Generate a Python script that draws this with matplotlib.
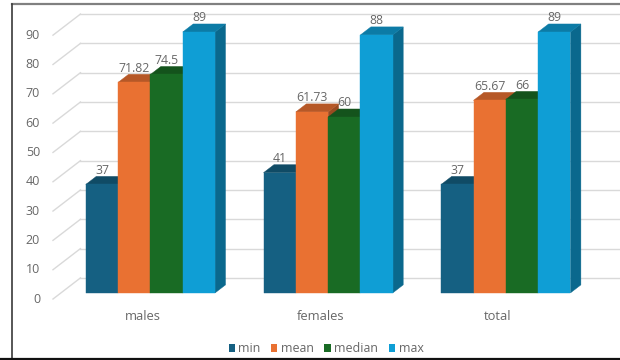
import matplotlib.pyplot as plt
import matplotlib.colors as mcolors
from matplotlib.patches import Polygon, Patch
from matplotlib.lines import Line2D

plt.rcParams['font.family'] = ['Open Sans', 'DejaVu Sans']

categories = ['males', 'females', 'total']
series = ['min', 'mean', 'median', 'max']
min_vals = [37, 41, 37]
mean_vals = [71.82, 61.73, 65.67]
median_vals = [74.5, 60, 66]
max_vals = [89, 88, 89]
y_ticks = list(range(0, 100, 10))

colors = ['#156082', '#E97132', '#196B24', '#0F9ED5']
text_color = '#676767'
grid_color = '#d9d9d9'

# pseudo-3D geometry (x in bar widths, y in value units)
GROUP_STEP = 5.5       # 4 bars + 150% gap
DEPTH_DX = 0.85        # horizontal shift from front to back wall
DEPTH_DY = 7.2         # vertical shift from front to back wall
BAR_D0, BAR_D1 = 0.29, 0.67
WALL_X = -2.77


def shade(c, k):
    r, g, b = mcolors.to_rgb(c)
    return (r * k, g * k, b * k)


def proj(x, v, d):
    return (x + d * DEPTH_DX, v + d * DEPTH_DY)


fig = plt.figure(figsize=(6.2, 3.6), dpi=100)
ax = fig.add_axes([0, 0, 1, 1])
ax.set_xlim(-4.41, 14.78)
ax.set_ylim(-20.8, 102.0)
ax.axis('off')

# gridlines: diagonal on the side wall, then horizontal on the back wall
for t in y_ticks:
    x0, y0 = proj(WALL_X, t, 0)
    x1, y1 = proj(WALL_X, t, 1)
    ax.plot([x0, x1], [y0, y1], color=grid_color, lw=1.0, zorder=1)
    ax.plot([x1, 15], [y1, y1], color=grid_color, lw=1.0, zorder=1)
    ax.text(-3.17, t, str(t), ha='right', va='center', fontsize=9,
            color=text_color)

data = [min_vals, mean_vals, median_vals, max_vals]
z = 2
for g, cat in enumerate(categories):
    center = g * GROUP_STEP
    for i, vals in enumerate(data):
        v = vals[g]
        xl = center - 2 + i
        xr = xl + 1
        col = colors[i]
        front = [proj(xl, 0, BAR_D0), proj(xr, 0, BAR_D0),
                 proj(xr, v, BAR_D0), proj(xl, v, BAR_D0)]
        top = [proj(xl, v, BAR_D0), proj(xr, v, BAR_D0),
               proj(xr, v, BAR_D1), proj(xl, v, BAR_D1)]
        side = [proj(xr, 0, BAR_D0), proj(xr, 0, BAR_D1),
                proj(xr, v, BAR_D1), proj(xr, v, BAR_D0)]
        ax.add_patch(Polygon(side, closed=True, fc=shade(col, 0.66),
                             ec=shade(col, 0.66), lw=0.3, zorder=z))
        ax.add_patch(Polygon(top, closed=True, fc=shade(col, 0.78),
                             ec=shade(col, 0.78), lw=0.3, zorder=z + 1))
        ax.add_patch(Polygon(front, closed=True, fc=col, ec=col, lw=0.3,
                             zorder=z + 2))
        z += 3
        lx, ly = proj(xl + 0.5, v, BAR_D0)
        ax.text(lx, ly + 4.8, f'{v:g}', ha='center', va='center',
                fontsize=8.8, color=text_color, zorder=100)
    ax.text(center, -5.8, cat, ha='center', va='center', fontsize=9.3,
            color=text_color)

handles = [Patch(facecolor=c, edgecolor='none') for c in colors]
fig.legend(handles, series, loc='center', bbox_to_anchor=(326 / 620, 1 - 349 / 360),
           ncol=4, frameon=False, handlelength=0.5, handleheight=0.6,
           handletextpad=0.3, columnspacing=0.85, fontsize=8.9,
           labelcolor=text_color)

# frame around the chart area
W, H = 620, 360
fig.add_artist(Line2D([11.5 / W, 1], [1 - 3.5 / H, 1 - 3.5 / H],
                      transform=fig.transFigure, color='#808080', lw=1.6))
fig.add_artist(Line2D([11.5 / W, 11.5 / W], [1 - 3.5 / H, 1 - 358.5 / H],
                      transform=fig.transFigure, color='#3a3a3a', lw=1.2))
fig.add_artist(Line2D([0, 1], [1 - 358.8 / H, 1 - 358.8 / H],
                      transform=fig.transFigure, color='#111111', lw=1.6))

fig.savefig('out.png', dpi=100)
